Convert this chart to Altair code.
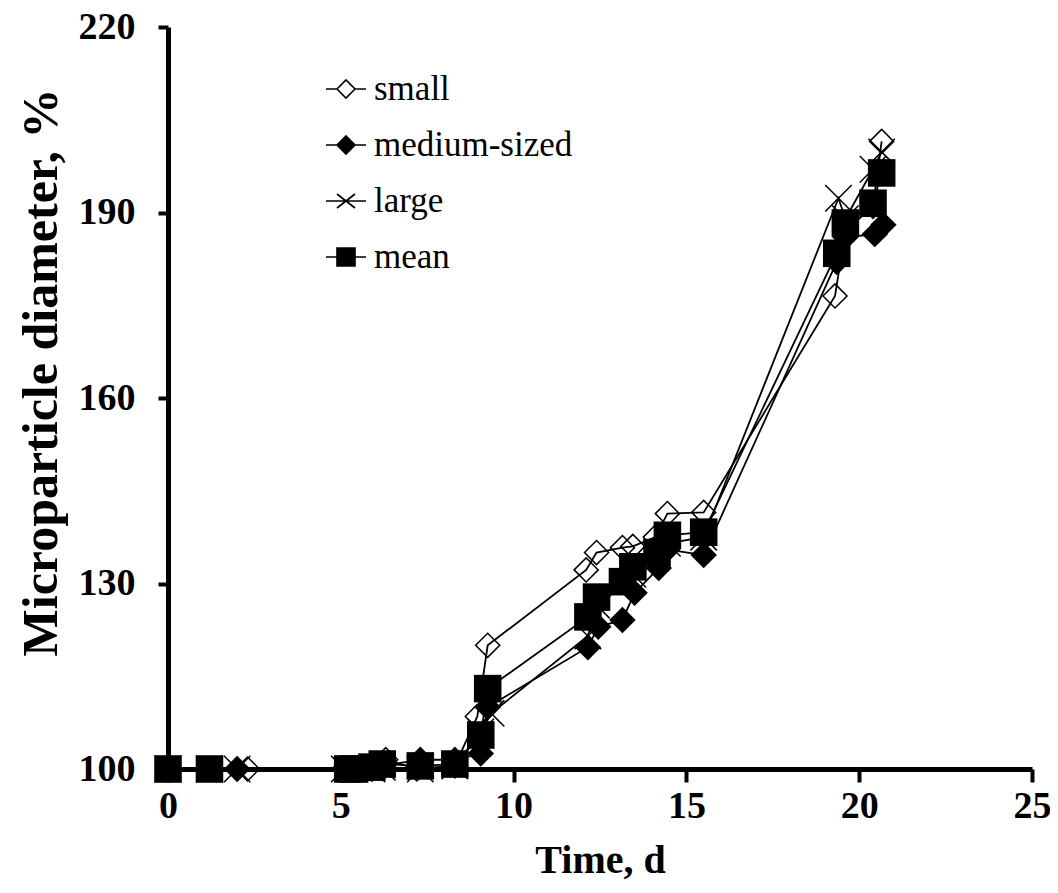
import altair as alt
import pandas as pd

FONT = "Liberation Serif"

series_names = ["small", "medium-sized", "large", "mean"]

# time points (days)
t_small = [0, 1.2, 2.3, 5.1, 5.3, 5.9, 6.3, 7.2, 8.3, 8.95, 9.25, 12.1, 12.4, 13.15, 13.45, 14.1, 14.45, 15.5, 19.3, 19.6, 20.4, 20.65]
t_medium = [0, 1.2, 2.0, 5.1, 5.3, 5.9, 6.2, 7.3, 8.3, 9.05, 9.25, 12.15, 12.45, 13.15, 13.5, 14.2, 14.45, 15.5, 19.35, 19.6, 20.45, 20.7]
t_large = [0, 1.2, 2.0, 5.1, 5.3, 5.9, 6.2, 7.3, 8.3, 9.05, 9.35, 12.15, 12.4, 13.15, 13.45, 14.15, 14.45, 15.5, 19.4, 19.6, 20.4, 20.65]
t_mean = [0, 1.2, 5.2, 5.4, 5.9, 6.2, 7.3, 8.3, 9.05, 9.25, 12.15, 12.4, 13.15, 13.45, 14.15, 14.45, 15.5, 19.35, 19.6, 20.4, 20.65]

# relative microparticle diameter, %
v_small = [100, 100, 100, 100, 100, 100.5, 101.5, 100, 100.5, 108.5, 120, 132.2, 135, 135.8, 136, 137.5, 141.3, 141.5, 176.5, 187, 191, 201.5]
v_medium = [100, 100, 100, 100, 100, 100, 100.5, 101.5, 101.5, 102.5, 110, 119.7, 123, 124.1, 128.5, 132.5, 135.5, 134.6, 182, 186, 186.5, 188]
v_large = [100, 100, 100, 100, 100, 100, 100.3, 100, 100.5, 106, 109, 121.5, 126.5, 130, 131.5, 135, 136.5, 137.5, 192.3, 189, 197, 199.8]
v_mean = [100, 100, 100, 100, 100.3, 100.8, 100.5, 100.8, 105.5, 113, 124.6, 127.8, 130.3, 132.7, 135, 137.8, 138.3, 183.4, 188.3, 191.5, 196.4]

x_ticks = [0, 5, 10, 15, 20, 25]
y_ticks = [100, 130, 160, 190, 220]

times = [t_small, t_medium, t_large, t_mean]
values = [v_small, v_medium, v_large, v_mean]

X_PATH = "M-1,-1L1,1M-1,1L1,-1"
marker_style = {
    "small": dict(shape="diamond", size=580, filled=False, fill="transparent", strokeWidth=1.5),
    "medium-sized": dict(shape="diamond", size=700, filled=True, fill="black", strokeWidth=0),
    "large": dict(shape=X_PATH, size=700, filled=False, strokeWidth=1.5),
    "mean": dict(shape="square", size=760, filled=True, fill="black", strokeWidth=0),
}

legend_paths = [
    "M-1,0L-0.45,0M0.45,0L1,0M-0.45,0L0,-0.45L0.45,0L0,0.45Z",
    "M-1,0L1,0M-0.45,0L0,-0.45L0.45,0L0,0.45Z",
    "M-1,0L1,0M-0.45,-0.35L0.45,0.35M-0.45,0.35L0.45,-0.35",
    "M-1,0L1,0M-0.45,-0.45L0.45,-0.45L0.45,0.45L-0.45,0.45Z",
]
legend_fills = ["transparent", "black", "transparent", "black"]
legend_strokes = ["black", "black", "black", "black"]

xscale = alt.Scale(domain=[0, 25], nice=False, zero=False)
yscale = alt.Scale(domain=[100, 220], nice=False, zero=False)

xaxis = alt.Axis(
    title="Time, d", values=x_ticks, format="d", grid=False,
    domainColor="black", domainWidth=5, tickColor="black", tickWidth=4, tickSize=13,
    labelFont=FONT, labelFontSize=38, labelFontWeight="bold", labelColor="black",
    labelPadding=5, labelFlush=False, labelOverlap=False,
    titleFont=FONT, titleFontSize=40, titleFontWeight="bold", titleColor="black", titlePadding=15,
)
yaxis = alt.Axis(
    title="Microparticle diameter, %", values=y_ticks, format="d", grid=False,
    domainColor="black", domainWidth=5, tickColor="black", tickWidth=4, tickSize=10,
    labelFont=FONT, labelFontSize=38, labelFontWeight="bold", labelColor="black",
    labelPadding=23, labelFlush=False, labelOverlap=False,
    titleFont=FONT, titleFontSize=50, titleFontWeight="bold", titleColor="black", titlePadding=12,
    titleY=345,
)

frames = []
for name, t, v in zip(series_names, times, values):
    frames.append(pd.DataFrame({"t": t, "v": v, "series": name}))
data = pd.concat(frames, ignore_index=True)

layers = []
for name in series_names:
    sub = data[data["series"] == name]
    base = alt.Chart(sub).encode(
        x=alt.X("t:Q", scale=xscale, axis=xaxis),
        y=alt.Y("v:Q", scale=yscale, axis=yaxis),
    )
    layers.append(base.mark_line(color="black", strokeWidth=1.8))
    st = marker_style[name]
    layers.append(base.mark_point(color="black", stroke="black", opacity=1, **st))

# legend-only layer: rows filtered away so nothing is drawn, the legend comes from the scale domain
legend_df = pd.DataFrame({"t": [0] * 4, "v": [100] * 4, "key": series_names})
legend_layer = alt.Chart(legend_df).mark_point(filled=False, strokeWidth=1.6).encode(
    x=alt.X("t:Q", scale=xscale, axis=xaxis),
    y=alt.Y("v:Q", scale=yscale, axis=yaxis),
    shape=alt.Shape("key:N", scale=alt.Scale(domain=series_names, range=legend_paths),
                    legend=alt.Legend(
                        title=None, orient="none", legendX=157, legendY=41, padding=0,
                        labelFont=FONT, labelFontSize=35, labelColor="black",
                        symbolSize=1600, symbolStrokeWidth=1.6,
                        symbolOpacity=1, labelOffset=7, rowPadding=17, labelLimit=0,
                    )),
    fill=alt.Fill("key:N", scale=alt.Scale(domain=series_names, range=legend_fills)),
    stroke=alt.Stroke("key:N", scale=alt.Scale(domain=series_names, range=legend_strokes)),
).transform_filter("datum.t < 0")
layers.append(legend_layer)

chart = alt.layer(*layers).properties(
    width=864, height=742,
    autosize=alt.AutoSizeParams(type="none"),
    padding={"left": 160, "top": 19, "right": 18, "bottom": 120},
    background="white",
).configure_view(stroke=None)

chart.save("out.html", embed_options={"renderer": "svg", "actions": False})
